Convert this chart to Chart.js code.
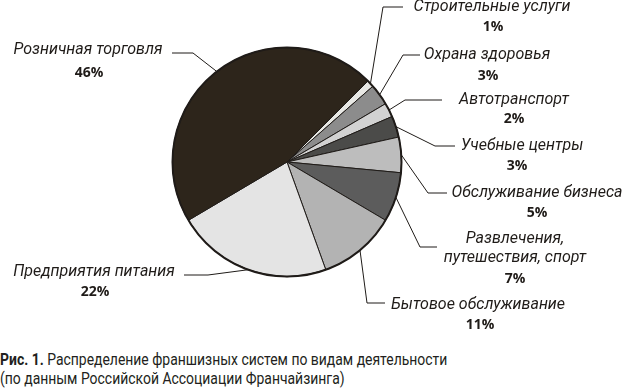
<!DOCTYPE html>
<html>
<head>
<meta charset="utf-8">
<script src="https://cdn.jsdelivr.net/npm/chart.js@4"></script>
<style>
  html, body { margin: 0; padding: 0; background: #fff; }
  #wrap { position: relative; width: 622px; height: 391px; overflow: hidden; }
  #chartBox { position: absolute; left: 0; top: 0; width: 622px; height: 345px; }
  #caption {
    position: absolute; left: 0; top: 350px; white-space: nowrap;
    font-family: "Roboto", sans-serif;
    font-size: 17px; line-height: 19px; color: #231f20;
    transform: scaleX(0.82); transform-origin: left top;
  }
  #caption b { font-weight: bold; }
</style>
</head>
<body>
<div id="wrap">
  <div id="chartBox"><canvas id="pie"></canvas></div>
  <div id="caption"><b>Рис. 1.</b> Распределение франшизных систем по видам деятельности<br>(по данным Российской Ассоциации Франчайзинга)</div>
</div>
<script>
// ── Franchise pie ──
// Shares of franchise systems by activity, clockwise from the top-right.

const categories = [
  ['Строительные услуги'],
  ['Охрана здоровья'],
  ['Автотранспорт'],
  ['Учебные центры'],
  ['Обслуживание бизнеса'],
  ['Развлечения,', 'путешествия, спорт'],
  ['Бытовое обслуживание'],
  ['Предприятия питания'],
  ['Розничная торговля']
];
const shares = [1, 3, 2, 3, 5, 7, 11, 22, 46];
const sliceColors = ['#e8e8e4', '#8c8c8c', '#d2d2d2', '#4b4b49', '#bdbdbd', '#5c5c5c', '#b3b3b3', '#e4e4e4', '#2d251b'];

// Where each callout sits: elbow of the leader, end of the leader, centre of name, centre of percent
const calloutLayout = [
  { elbow: [383, 7],   end: [403, 7],   name: [492, 7],   pct: [493, 27] },
  { elbow: [403, 55],  end: [420, 55],  name: [487, 55],  pct: [488, 76] },
  { elbow: [405, 100], end: [442, 100], name: [514, 100], pct: [514, 119] },
  { elbow: [435, 146], end: [455, 146], name: [522, 146], pct: [517, 166] },
  { elbow: [428, 193], end: [447, 193], name: [537, 193], pct: [537, 213] },
  { elbow: [420, 247], end: [437, 247], name: [515, 239], pct: [515, 279] },
  { elbow: [367, 303], end: [385, 303], name: [478, 305], pct: [480, 325] },
  { elbow: [208, 275], end: [184, 275], name: [94, 272],  pct: [95, 292] },
  { elbow: [193, 53],  end: [172, 53],  name: [88, 50],   pct: [89, 73] }
];

const LABEL_FONT = 'italic 16px "Roboto", sans-serif';
const PCT_FONT = 'bold 14px "Open Sans", "Noto Sans", sans-serif';
const INK = '#1f1b18';

// Thicker outer ring on top of the slices
const outerRing = {
  id: 'outerRing',
  afterDatasetsDraw(chart) {
    const arc = chart.getDatasetMeta(0).data[0];
    if (!arc) return;
    const ctx = chart.ctx;
    ctx.save();
    ctx.beginPath();
    ctx.arc(arc.x, arc.y, arc.outerRadius, 0, Math.PI * 2);
    ctx.lineWidth = 2;
    ctx.strokeStyle = INK;
    ctx.stroke();
    ctx.restore();
  }
};

// Leader lines and callout text
const callouts = {
  id: 'callouts',
  afterDraw(chart) {
    const ctx = chart.ctx;
    const meta = chart.getDatasetMeta(0);
    ctx.save();
    meta.data.forEach((arc, i) => {
      const lay = calloutLayout[i];
      const mid = (arc.startAngle + arc.endAngle) / 2;
      const ax = arc.x + Math.cos(mid) * arc.outerRadius;
      const ay = arc.y + Math.sin(mid) * arc.outerRadius;

      ctx.beginPath();
      ctx.moveTo(ax, ay);
      ctx.lineTo(lay.elbow[0], lay.elbow[1]);
      ctx.lineTo(lay.end[0], lay.end[1]);
      ctx.lineWidth = 1;
      ctx.strokeStyle = INK;
      ctx.stroke();

      ctx.fillStyle = INK;
      ctx.textAlign = 'center';
      ctx.textBaseline = 'middle';
      ctx.font = LABEL_FONT;
      categories[i].forEach((line, k) => {
        ctx.fillText(line, lay.name[0], lay.name[1] + k * 19);
      });
      ctx.font = PCT_FONT;
      ctx.fillText(shares[i] + '%', lay.pct[0], lay.pct[1]);
    });
    ctx.restore();
  }
};

new Chart(document.getElementById('pie'), {
  type: 'pie',
  data: {
    labels: categories.map(c => c.join(' ')),
    datasets: [{
      data: shares,
      backgroundColor: sliceColors,
      borderColor: INK,
      borderWidth: 1
    }]
  },
  options: {
    responsive: true,
    maintainAspectRatio: false,
    rotation: 45,
    animation: false,
    layout: { padding: { left: 172, right: 220, top: 47, bottom: 68 } },
    plugins: {
      legend: { display: false },
      tooltip: { enabled: false }
    }
  },
  plugins: [outerRing, callouts]
});
</script>
</body>
</html>
